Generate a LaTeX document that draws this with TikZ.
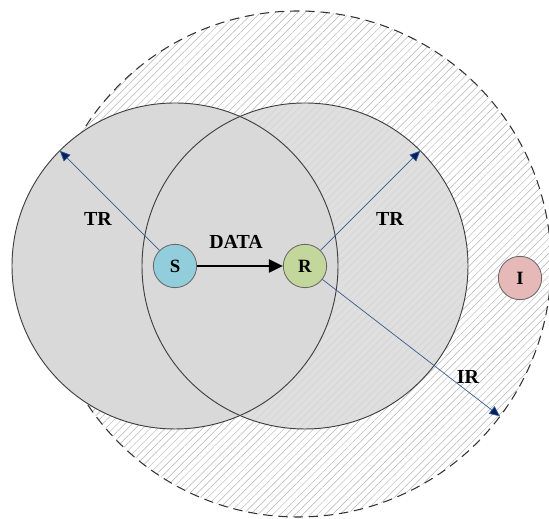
\documentclass[tikz,border=0pt]{standalone}
\usepackage{fontspec}
\setmainfont{Liberation Serif}
\usetikzlibrary{patterns.meta,arrows.meta,calc}
\definecolor{areagray}{HTML}{D9D9D9}
\definecolor{rimgray}{HTML}{404040}
\definecolor{rayblue}{HTML}{3A5A8C}
\definecolor{tipblue}{HTML}{002060}
\definecolor{srcblue}{HTML}{92CDDC}
\definecolor{rcvgreen}{HTML}{C3D69B}
\definecolor{intpink}{HTML}{E6B9B8}
\begin{document}
\begin{tikzpicture}[
    station/.style={circle, draw=black!60, line width=0.7pt, minimum size=1.3cm, inner sep=0pt, font=\fontsize{16}{18}\selectfont\bfseries},
    ray/.style={draw=rayblue, line width=0.6pt, -{Triangle[length=9pt,width=8pt,fill=tipblue]}},
    tag/.style={font=\fontsize{17}{19}\selectfont\bfseries}]
    \useasboundingbox (0,0) rectangle (16.47,15.57);

    % interference range
    \path [pattern={Lines[angle=45,distance=4.5pt,line width=0.4pt]}, pattern color=gray!60] (8.94,7.65) circle (7.59cm);
    \draw [dash pattern=on 8pt off 5pt, line width=0.9pt, draw=black!80] (8.94,7.65) circle (7.59cm);

    % transmission ranges
    \fill [areagray, opacity=0.85] (9.15,7.59) circle (4.89cm);
    \fill [areagray] (5.25,7.59) circle (4.89cm);
    \draw [rimgray, line width=0.8pt] (9.15,7.59) circle (4.89cm);
    \draw [rimgray, line width=0.8pt] (5.25,7.59) circle (4.89cm);

    \node [station, fill=srcblue] (S) at (5.25, 7.59) {S};
    \node [station, fill=rcvgreen] (R) at (9.15, 7.59) {R};
    \node [station, fill=intpink] (I) at (15.6, 7.23) {I};

    \coordinate (trLeft) at ($(S)+(135:4.89)$);
    \coordinate (trRight) at ($(R)+(45:4.89)$);
    \coordinate (irEnd) at (15.0, 3.08);

    \node [tag] (trLeftTag) at (2.94, 9.0) {TR};
    \node [tag] (trRightTag) at (11.7, 9.0) {TR};
    \node [tag] (dataTag) at (7.08, 8.3) {DATA};
    \node [tag] (irTag) at (14.04, 4.26) {IR};

    \draw [ray] (S) -- (trLeft);
    \draw [ray] (R) -- (trRight);
    \draw [ray] (R) -- (irEnd);

    \draw [-{Triangle[length=12pt,width=11pt]}, line width=2.2pt] (S) -- (R);
\end{tikzpicture}
\end{document}
